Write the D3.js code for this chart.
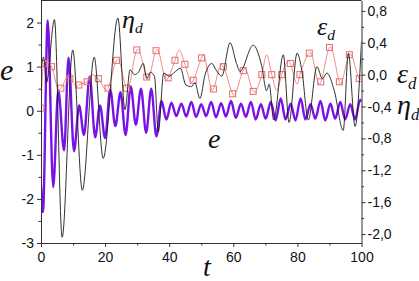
<!DOCTYPE html>
<html>
<head>
<meta charset="utf-8">
<script src="https://cdn.jsdelivr.net/npm/d3@7"></script>
<style>
  body { margin: 0; background: #fff; }
  svg text { font-family: "Liberation Sans", Arial, sans-serif; }
  .lbl { font-family: "Liberation Serif", "Times New Roman", serif; font-style: italic; }
</style>
</head>
<body>
<svg id="chart" width="419" height="281"></svg>
<script>
// valeurs : [t, valeur]
const ePoints = [
  [0, -1.7], [0.6, -2.3], [2.1, 2.05], [3.8, -1.73], [5.4, 0.46], [7.2, -0.9], [8.6, 1.2],
  [10.3, -0.92], [11.9, 0.12], [13.4, -0.55], [15.2, 0.78], [16.9, -0.6], [18.4, 0.12],
  [20.0, -0.62], [21.6, 0.48], [23.2, -0.35], [24.8, 0.42], [26.4, -0.55], [28.0, 0.55],
  [29.6, -0.32], [31.2, 0.5], [32.8, -0.5], [34.4, 0.5], [36.0, -0.58], [37.6, 0.22],
  [39.1, -0.2], [40.7, 0.18], [42.2, -0.12], [43.8, 0.16], [45.3, -0.13], [46.9, 0.2],
  [48.4, -0.14], [50.0, 0.15], [51.5, -0.12], [53.1, 0.2], [54.6, -0.15], [56.2, 0.17],
  [57.7, -0.13], [59.3, 0.22], [60.8, -0.16], [62.4, 0.16], [63.9, -0.14], [65.5, 0.2],
  [67.0, -0.2], [68.6, 0.15], [70.1, -0.18], [71.7, 0.2], [73.2, -0.22], [74.8, 0.28],
  [76.3, -0.2], [77.9, 0.16], [79.4, -0.22], [81.0, 0.28], [82.5, -0.2], [84.1, 0.15],
  [85.6, -0.18], [87.2, 0.22], [88.7, -0.22], [90.3, 0.16], [91.8, -0.18], [93.4, 0.2],
  [94.9, -0.2], [96.5, 0.15], [98.0, -0.2], [99.6, 0.25], [100, 0.2]
];
const etaPoints = [
  [0, 0.05], [0.8, 0.22], [1.7, -0.1], [4.2, 0.69], [6.6, -2.04], [9.9, 0.31], [12.9, -1.45],
  [16.6, 0.22], [19.4, -1.05], [24.0, 0.71], [26.2, -0.44], [27.8, 0.06], [29.2, 0.0],
  [30.4, 0.03], [31.9, 0.14], [33.0, -0.05], [34.1, 0.03], [35.4, -0.02], [36.6, -0.72],
  [38.3, 0.02], [40.0, -0.02], [41.4, 0.02], [43.5, 0.08], [45.2, -0.13], [47.0, -0.15],
  [48.0, -0.1], [49.6, -0.3], [51.2, 0.0], [53.3, 0.14], [54.6, 0.06], [56.4, -0.02],
  [59.0, 0.4], [61.0, 0.14], [62.1, 0.04], [66.2, 0.37], [68.8, 0.12], [70.4, -0.2],
  [71.2, -0.12], [72.6, -0.57], [75.6, 0.25], [77.4, -0.6], [79.9, 0.27], [81.4, 0.05],
  [83.4, -0.57], [86.1, 0.1], [87.8, -0.05], [89.2, 0.02], [91.5, -0.2], [94.3, -0.7],
  [95.9, 0.27], [98.0, -0.65], [100, 0.42]
];
// points avec marqueur carré
const epsMarks = [
  [0, -0.42], [0.8, 0.14], [3.3, 0.1], [6.2, -0.17], [9.0, -0.05], [11.8, -0.13], [14.4, -0.09],
  [17.9, -0.05], [20.9, -0.17], [23.6, 0.18], [26.7, -0.17], [29.9, 0.31], [33.0, -0.03],
  [35.9, 0.3], [39.7, -0.04], [41.8, 0.18], [44.9, 0.13], [47.5, -0.07], [50.1, 0.21],
  [53.8, -0.18], [56.9, 0.1], [59.8, -0.24], [63.1, 0.05], [66.2, -0.21], [68.9, 0.0],
  [72.0, 0.0], [75.1, 0.0], [77.8, 0.14], [80.8, 0.0], [83.7, 0.27], [87.3, -0.09],
  [90.0, 0.34], [93.1, -0.09], [96.2, 0.25], [99.3, -0.05]
];
// extrema de la courbe epsilon entre les marqueurs
const epsPeaks = [
  [1.8, 0.17], [5.6, -0.19], [8.4, -0.03], [11.3, -0.15], [15.8, 0.0], [20.4, -0.19],
  [24.0, 0.19], [27.0, -0.18], [30.2, 0.32], [33.4, -0.06], [36.3, 0.31], [39.1, -0.07],
  [43.1, 0.31], [47.0, -0.1], [50.6, 0.25], [53.5, -0.2], [56.3, 0.13], [60.1, -0.26],
  [63.6, 0.08], [66.5, -0.22], [70.4, 0.25], [73.6, -0.2], [77.2, 0.17], [79.9, -0.12],
  [84.0, 0.28], [86.9, -0.12], [90.3, 0.35], [93.4, -0.12], [96.5, 0.26], [99.6, -0.06], [100, -0.03]
];
const xTicks = [0, 20, 40, 60, 80, 100];
const xMinor = [10, 30, 50, 70, 90];
const leftTicks = [-3, -2, -1, 0, 1, 2];
const leftMinor = [-2.5, -1.5, -0.5, 0.5, 1.5];
const rightTicks = [-2.0, -1.6, -1.2, -0.8, -0.4, 0.0, 0.4, 0.8];
const rightMinor = [-1.8, -1.4, -1.0, -0.6, -0.2, 0.2, 0.6];

const pLeft = 41, pRight = 361.5, pTop = 0.5, pBottom = 243;
const svg = d3.select("#chart");

const x = d3.scaleLinear().domain([0, 100]).range([pLeft, pRight]);
const yL = d3.scaleLinear().domain([-3, 2.5]).range([pBottom, pTop]);
const yR = d3.scaleLinear().domain([-2.112, 0.93]).range([pBottom, pTop]);

svg.append("clipPath").attr("id", "clip")
  .append("rect").attr("x", pLeft).attr("y", pTop).attr("width", pRight - pLeft).attr("height", pBottom - pTop);

const plot = svg.append("g").attr("clip-path", "url(#clip)");

const lineL = d3.line().x(d => x(d[0])).y(d => yL(d[1])).curve(d3.curveMonotoneX);
const lineR = d3.line().x(d => x(d[0])).y(d => yR(d[1])).curve(d3.curveMonotoneX);

// courbe e
plot.append("path").datum(ePoints)
  .attr("d", lineL).attr("fill", "none")
  .attr("stroke", "#7a12e8").attr("stroke-width", 2.4);

// courbe epsilon_d
const epsAll = [...epsMarks, ...epsPeaks].sort((a, b) => a[0] - b[0]);
plot.append("path").datum(epsAll)
  .attr("d", lineR).attr("fill", "none")
  .attr("stroke", "#f08a8a").attr("stroke-width", 1);
plot.selectAll("rect.mk").data(epsMarks).join("rect")
  .attr("class", "mk")
  .attr("x", d => x(d[0]) - 3).attr("y", d => yR(d[1]) - 3)
  .attr("width", 6).attr("height", 6)
  .attr("fill", "none").attr("stroke", "#e86a6a").attr("stroke-width", 1);

// courbe eta_d
plot.append("path").datum(etaPoints)
  .attr("d", lineR).attr("fill", "none")
  .attr("stroke", "#1a1a1a").attr("stroke-width", 0.9);

// cadre
svg.append("line").attr("x1", pLeft).attr("x2", pRight).attr("y1", pTop).attr("y2", pTop)
  .attr("stroke", "#333");

function styleAxis(g) {
  g.selectAll("path, line").attr("stroke", "#333");
  g.selectAll("text").attr("font-size", 14).attr("fill", "#111");
}

// axes
svg.append("g").attr("transform", `translate(0,${pBottom})`)
  .call(d3.axisBottom(x).tickValues(xTicks).tickSize(4).tickSizeOuter(0).tickPadding(5).tickFormat(d => String(d)))
  .call(styleAxis);
svg.append("g").attr("transform", `translate(0,${pBottom})`)
  .call(d3.axisBottom(x).tickValues(xMinor).tickSize(2.5).tickFormat(""))
  .call(g => g.select(".domain").remove()).call(styleAxis);

svg.append("g").attr("transform", `translate(${pLeft},0)`)
  .call(d3.axisLeft(yL).tickValues(leftTicks).tickSize(4).tickSizeOuter(0).tickPadding(3).tickFormat(d => String(d)))
  .call(styleAxis);
svg.append("g").attr("transform", `translate(${pLeft},0)`)
  .call(d3.axisLeft(yL).tickValues(leftMinor).tickSize(2.5).tickFormat(""))
  .call(g => g.select(".domain").remove()).call(styleAxis);

svg.append("g").attr("transform", `translate(${pRight},0)`)
  .call(d3.axisRight(yR).tickValues(rightTicks).tickSize(4).tickSizeOuter(0).tickPadding(2)
    .tickFormat(d => d.toFixed(1).replace(".", ",")))
  .call(styleAxis);
svg.append("g").attr("transform", `translate(${pRight},0)`)
  .call(d3.axisRight(yR).tickValues(rightMinor).tickSize(2.5).tickFormat(""))
  .call(g => g.select(".domain").remove()).call(styleAxis);

// libellés
function label(xp, yp, main, size, sub) {
  const t = svg.append("text").attr("class", "lbl").attr("x", xp).attr("y", yp)
    .attr("font-size", size).attr("fill", "#111");
  t.append("tspan").text(main);
  if (sub) t.append("tspan").attr("font-size", size * 0.6).attr("dy", size * 0.2).text(sub);
}
label(0, 80, "e", 30);
label(203, 276, "t", 28);
label(122, 28, "η", 26, "d");
label(317, 35, "ε", 26, "d");
label(208, 148, "e", 28);
label(397, 83, "ε", 28, "d");
label(397, 114, "η", 28, "d");
</script>
</body>
</html>
